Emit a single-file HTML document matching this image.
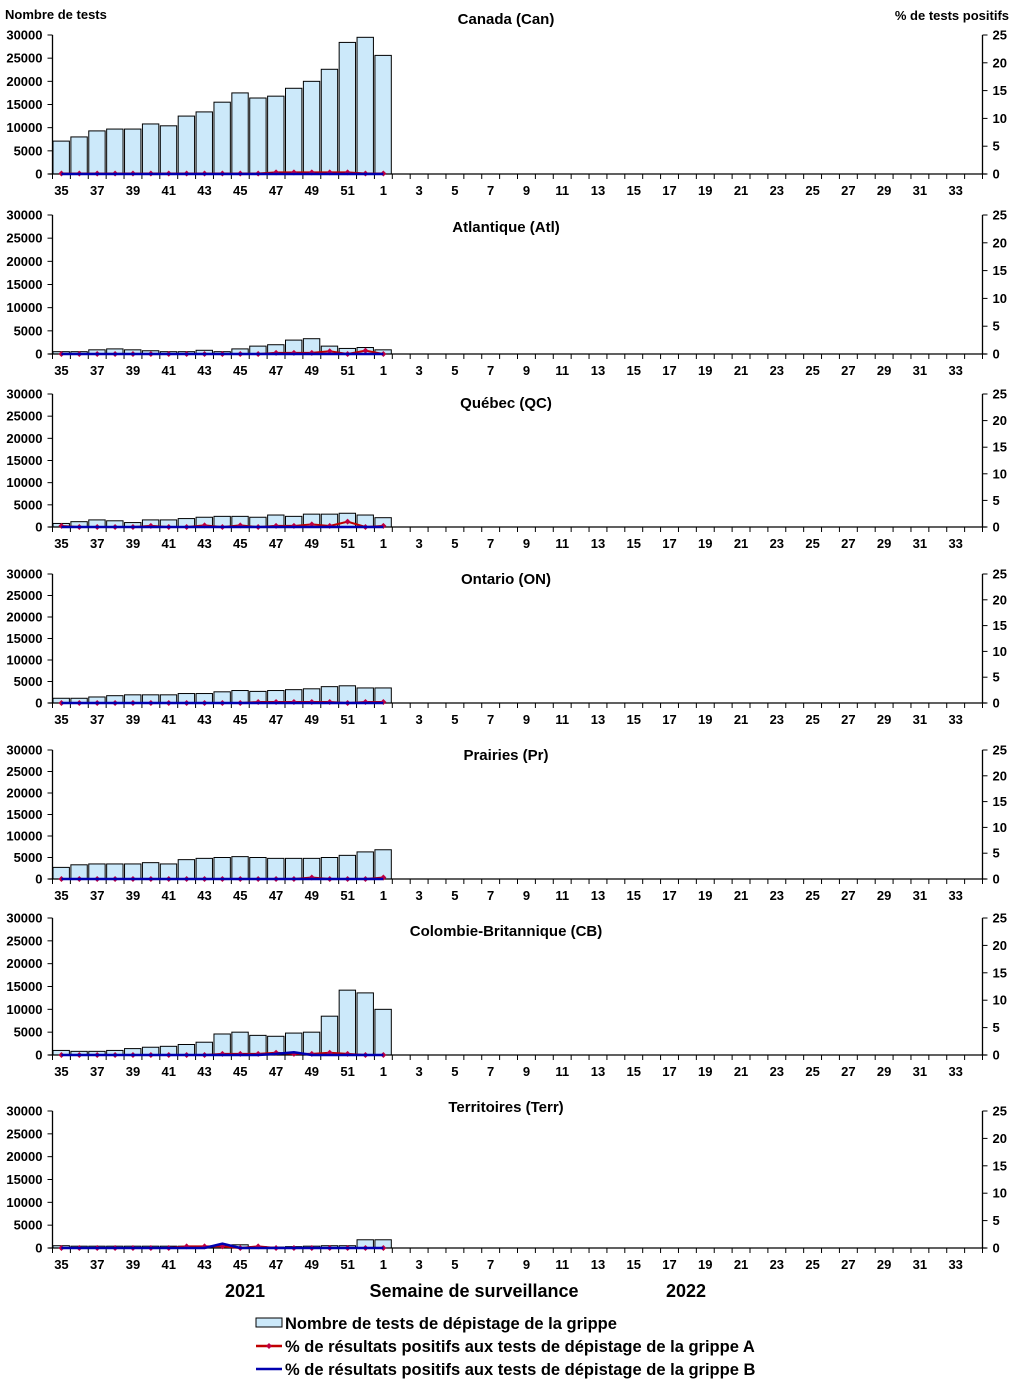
<!DOCTYPE html>
<html><head><meta charset="utf-8"><style>
body{margin:0;background:#fff;font-family:"Liberation Sans",Arial,sans-serif;}
svg text{font-family:"Liberation Sans",Arial,sans-serif;font-weight:bold;fill:#000}
</style></head><body>
<svg id="chart" width="1013" height="1392" xmlns="http://www.w3.org/2000/svg"></svg>
<script>
const weekLabels=[35,36,37,38,39,40,41,42,43,44,45,46,47,48,49,50,51,52,1,2,3,4,5,6,7,8,9,10,11,12,13,14,15,16,17,18,19,20,21,22,23,24,25,26,27,28,29,30,31,32,33,34];
const regionNames=["Canada (Can)","Atlantique (Atl)","Québec (QC)","Ontario (ON)","Prairies (Pr)","Colombie-Britannique (CB)","Territoires (Terr)"];
const testsCan=[7100,8000,9300,9700,9700,10800,10400,12500,13400,15500,17500,16400,16800,18500,20000,22600,28400,29500,25600];
const testsAtl=[500,500,900,1100,900,700,500,500,800,500,1100,1700,2000,3000,3300,1700,1200,1400,900];
const testsQC=[800,1200,1600,1400,1000,1600,1600,1900,2200,2400,2400,2200,2700,2400,2900,2900,3100,2700,2100];
const testsON=[1100,1100,1400,1700,1900,1900,1900,2200,2200,2600,2900,2700,2900,3100,3300,3800,4000,3500,3500];
const testsPr=[2700,3300,3500,3500,3500,3800,3500,4500,4800,5000,5200,5000,4800,4800,4800,5000,5500,6300,6800];
const testsCB=[1000,800,800,1000,1400,1700,1900,2300,2800,4600,5000,4300,4100,4800,5000,8500,14200,13600,10000];
const testsTerr=[500,400,400,400,400,400,400,400,400,500,700,300,200,300,400,500,500,1800,1800];
const fluACan=[0.1,0.1,0.1,0.1,0.1,0.1,0.1,0.1,0.1,0.1,0.1,0.1,0.3,0.3,0.3,0.3,0.3,0.1,0.1];
const fluAAtl=[0,0,0,0,0,0,0,0,0,0,0,0,0.2,0.2,0.2,0.5,0,0.6,0];
const fluAQC=[0.2,0,0,0,0,0.2,0,0,0.3,0,0.3,0,0.2,0.2,0.5,0.2,1.0,0,0.2];
const fluAON=[0,0,0,0,0,0,0,0,0,0,0,0.2,0.2,0.2,0.2,0.2,0,0.2,0.2];
const fluAPr=[0,0,0,0,0,0,0,0,0,0,0,0,0,0,0.3,0,0,0,0.3];
const fluACB=[0,0,0,0,0,0,0,0,0,0.2,0.2,0.2,0.4,0.2,0.2,0.4,0.2,0,0];
const fluATerr=[0,0,0,0,0,0,0,0.3,0.3,0.3,0,0.3,0,0,0,0,0,0,0];
const fluBCan=[0,0,0,0,0,0,0,0,0,0,0,0,0,0,0,0,0,0,0];
const fluBAtl=[0,0,0,0,0,0,0,0,0,0,0,0,0,0,0,0,0,0,0];
const fluBQC=[0,0,0,0,0,0,0,0,0,0,0,0,0,0,0,0,0,0,0];
const fluBON=[0,0,0,0,0,0,0,0,0,0,0,0,0,0,0,0,0,0,0];
const fluBPr=[0,0,0,0,0,0,0,0,0,0,0,0,0,0,0,0,0,0,0];
const fluBCB=[0,0,0,0,0,0,0,0,0,0,0,0,0.2,0.5,0,0,0,0,0];
const fluBTerr=[0,0,0,0,0,0,0,0,0,0.8,0,0,0,0,0,0,0,0,0];
const leftTicks=[0,5000,10000,15000,20000,25000,30000];
const rightTicks=[0,5,10,15,20,25];
const tests=[testsCan,testsAtl,testsQC,testsON,testsPr,testsCB,testsTerr];
const fluA=[fluACan,fluAAtl,fluAQC,fluAON,fluAPr,fluACB,fluATerr];
const fluB=[fluBCan,fluBAtl,fluBQC,fluBON,fluBPr,fluBCB,fluBTerr];
const panels=[{t:35,b:174},{t:215,b:354},{t:394,b:527},{t:574,b:703},{t:750,b:879},{t:918,b:1055},{t:1111,b:1248}];
const titleY=[24,232,408,584,760,936,1112];
const NS="http://www.w3.org/2000/svg";
const svg=document.getElementById('chart');
function mk(tag,attrs,parent){const e=document.createElementNS(NS,tag);for(const k in attrs)e.setAttribute(k,attrs[k]);(parent||svg).appendChild(e);return e;}
const X0=52.5,X1=982.5,W=(X1-X0)/weekLabels.length;
const xc=i=>X0+W*(i+0.5);
panels.forEach((p,pi)=>{
  const g=mk('g',{});
  
  
  const yL=v=>p.b-(v/30000)*(p.b-p.t);
  const yR=v=>p.b-(v/25)*(p.b-p.t);
  const tt=mk('text',{x:506,y:titleY[pi],'text-anchor':'middle','font-size':15},g);tt.textContent=regionNames[pi];
  
  
  tests[pi].forEach((v,i)=>{
    const r=mk('rect',{x:X0+W*i+0.5,y:yL(v),width:W-1.5,height:p.b-yL(v),fill:'#cce9fa',stroke:'#000','stroke-width':1},g);
    
    
  });
  mk('line',{x1:X0,y1:p.t,x2:X0,y2:p.b,stroke:'#000','stroke-width':1.3},g);
  mk('line',{x1:X1,y1:p.t,x2:X1,y2:p.b,stroke:'#000','stroke-width':1.3},g);
  mk('line',{x1:X0-4,y1:p.b,x2:X1+4,y2:p.b,stroke:'#000','stroke-width':1.3},g);
  leftTicks.forEach(v=>{mk('line',{x1:X0-5,y1:yL(v),x2:X0,y2:yL(v),stroke:'#000'},g);
    const t=mk('text',{x:X0-10,y:yL(v)+4.5,'text-anchor':'end','font-size':13},g);t.textContent=v;
    });
  rightTicks.forEach(v=>{mk('line',{x1:X1,y1:yR(v),x2:X1+5,y2:yR(v),stroke:'#000'},g);
    const t=mk('text',{x:X1+10,y:yR(v)+4.5,'text-anchor':'start','font-size':13},g);t.textContent=v;
    });
  for(let i=0;i<=weekLabels.length;i++)mk('line',{x1:X0+W*i,y1:p.b,x2:X0+W*i,y2:p.b+5,stroke:'#000'},g);
  weekLabels.forEach((w,i)=>{if(i%2==0){const t=mk('text',{x:xc(i),y:p.b+21,'text-anchor':'middle','font-size':13},g);t.textContent=w;
    }});
  const pa=fluA[pi].map((v,i)=>xc(i)+','+yR(v)).join(' ');
  const la=mk('polyline',{points:pa,fill:'none',stroke:'#c00000','stroke-width':2},g);
  
  fluA[pi].forEach((v,i)=>{const x=xc(i),y=yR(v);mk('polygon',{points:`${x},${y-3} ${x+3},${y} ${x},${y+3} ${x-3},${y}`,fill:'#c00040'},g);});
  const pb=fluB[pi].map((v,i)=>xc(i)+','+yR(v)).join(' ');
  const lb=mk('polyline',{points:pb,fill:'none',stroke:'#0000b0','stroke-width':2.5},g);
  
});
function txt(x,y,s,size,anchor,name){const t=mk('text',{x:x,y:y,'font-size':size,'text-anchor':anchor||'start'});t.textContent=s;
  return t;}
txt(5,19,'Nombre de tests',13,'start','left-axis-title');
txt(1009,20,'% de tests positifs',13,'end','right-axis-title');
txt(245,1297,'2021',18,'middle','year-2021');
txt(474,1297,'Semaine de surveillance',18,'middle','x-axis-title');
txt(686,1297,'2022',18,'middle','year-2022');
const lg=mk('g',{});
mk('rect',{x:256,y:1318,width:26,height:9,fill:'#cce9fa',stroke:'#000'},lg);
txt(285,1329,'Nombre de tests de dépistage de la grippe',16.5,'start','legend-tests');
mk('line',{x1:256,y1:1346,x2:282,y2:1346,stroke:'#c00000','stroke-width':2.5},lg);
mk('polygon',{points:'269,1343 272,1346 269,1349 266,1346',fill:'#c00040'},lg);
txt(285,1352,'% de résultats positifs aux tests de dépistage de la grippe A',16.5,'start','legend-flu-a');
mk('line',{x1:256,y1:1369,x2:282,y2:1369,stroke:'#0000b0','stroke-width':2.5},lg);
txt(285,1375,'% de résultats positifs aux tests de dépistage de la grippe B',16.5,'start','legend-flu-b');
</script>
</body></html>
